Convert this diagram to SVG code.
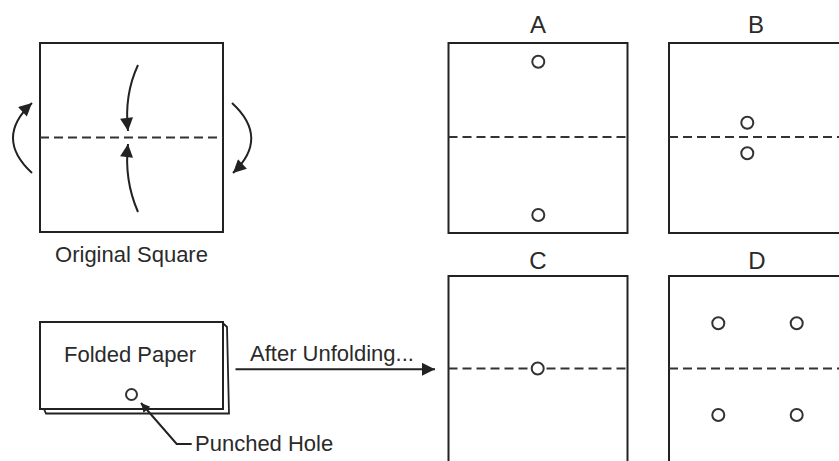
<svg xmlns="http://www.w3.org/2000/svg" width="839" height="461" viewBox="0 0 839 461">
<style>
.box{fill:#fff;stroke:#222;stroke-width:2}
.fold{stroke:#333;stroke-width:1.8;stroke-dasharray:9 5;fill:none}
.hole{fill:#fff;stroke:#333;stroke-width:2}
.lbl{font-family:"Liberation Sans",Arial,sans-serif;font-size:22px;fill:#2a2a2a}
.big{font-size:24px}
.arr{fill:none;stroke:#222;stroke-width:2}
</style>
<defs>
<marker id="ah" viewBox="0 0 10 10" refX="10" refY="5" markerWidth="18" markerHeight="13" markerUnits="userSpaceOnUse" orient="auto"><path d="M0,0 L10,5 L0,10 z" fill="#222"/></marker>
<marker id="ahs" viewBox="0 0 10 10" refX="10" refY="5" markerWidth="13" markerHeight="9" markerUnits="userSpaceOnUse" orient="auto"><path d="M0,0 L10,5 L0,10 z" fill="#222"/></marker>
</defs>
<rect width="839" height="461" fill="#fff"/>
<g id="original-square">
<rect class="box" x="40" y="43" width="183" height="189"/>
<line class="fold" x1="40" y1="137.5" x2="223" y2="137.5"/>
<text class="lbl" x="131.5" y="262" text-anchor="middle">Original Square</text>
</g>
<g id="folded-paper">
<path d="M44,409 L46,413.5 L229,413.5 L227,327 L222.7,323" fill="#fff" stroke="#222" stroke-width="1.8"/>
<rect class="box" x="40" y="322" width="183" height="87"/>
<text class="lbl" x="130" y="362" text-anchor="middle">Folded Paper</text>
<circle class="hole" cx="131.5" cy="394.5" r="5.5"/>
<text class="lbl" x="195" y="451">Punched Hole</text>
</g>
<g id="option-a">
<text class="lbl big" x="538" y="33" text-anchor="middle">A</text>
<rect class="box" x="448.5" y="43" width="179" height="190"/>
<line class="fold" x1="448.5" y1="137" x2="627.5" y2="137"/>
<circle class="hole" cx="538.3" cy="61.7" r="6"/>
<circle class="hole" cx="538.3" cy="215" r="6"/>
</g>
<g id="option-b">
<text class="lbl big" x="756" y="33" text-anchor="middle">B</text>
<rect class="box" x="669" y="43" width="179" height="190"/>
<line class="fold" x1="669" y1="137" x2="848" y2="137"/>
<circle class="hole" cx="747.3" cy="122.7" r="6"/>
<circle class="hole" cx="747.3" cy="153.3" r="6"/>
</g>
<g id="option-c">
<text class="lbl big" x="538" y="269" text-anchor="middle">C</text>
<rect class="box" x="448.5" y="276" width="179" height="200"/>
<line class="fold" x1="448.5" y1="368.5" x2="627.5" y2="368.5"/>
<circle class="hole" cx="537.7" cy="368.5" r="6"/>
</g>
<g id="option-d">
<text class="lbl big" x="757" y="269" text-anchor="middle">D</text>
<rect class="box" x="669" y="276" width="179" height="200"/>
<line class="fold" x1="669" y1="368.5" x2="848" y2="368.5"/>
<circle class="hole" cx="718.3" cy="323.3" r="6"/>
<circle class="hole" cx="796.7" cy="323.3" r="6"/>
<circle class="hole" cx="718.3" cy="415" r="6"/>
<circle class="hole" cx="796.7" cy="415" r="6"/>
</g>
<g id="connectors">
<path class="arr" d="M138,65 Q124,95 128,131" marker-end="url(#ah)"/>
<path class="arr" d="M138,212 Q124,180 128,144" marker-end="url(#ah)"/>
<path class="arr" d="M32,173 Q-6,138 32,103" marker-end="url(#ah)"/>
<path class="arr" d="M232,103 Q270,138 233,173" marker-end="url(#ah)"/>
<path class="arr" d="M191.7,444 L176.7,444 L141,403" marker-end="url(#ahs)"/>
<line class="arr" x1="235.5" y1="369.3" x2="435" y2="369.3" marker-end="url(#ah)"/>
<text class="lbl" x="250" y="361">After Unfolding...</text>
</g>
</svg>
